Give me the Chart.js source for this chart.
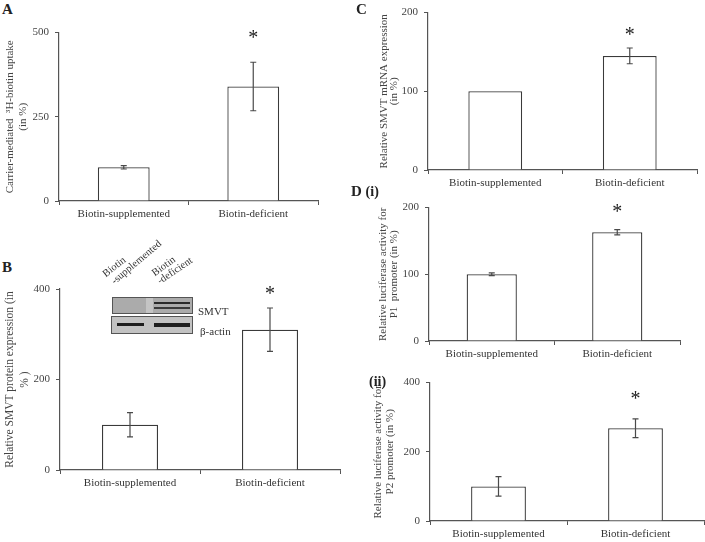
<!DOCTYPE html>
<html>
<head>
<meta charset="utf-8">
<script src="https://cdn.jsdelivr.net/npm/chart.js@4.4.1/dist/chart.umd.min.js"></script>
<style>
body { margin: 0; background: #fff; width: 705px; height: 542px; overflow: hidden; position: relative; font-family: "Liberation Serif", "DejaVu Serif", serif; }
canvas { position: absolute; }
.lbl { position: absolute; font-weight: bold; font-size: 15px; color: #222; line-height: 15px; }
.blot { position: absolute; border: 1px solid #555; box-sizing: border-box; }
.band { position: absolute; }
.btxt { position: absolute; font-size: 11px; color: #333; line-height: 11px; }
.rot { position: absolute; font-size: 10.5px; color: #333; line-height: 10px; transform-origin: left bottom; white-space: nowrap; }
</style>
</head>
<body>
<canvas id="chartA" width="330" height="206" style="left:0px;top:20px"></canvas>
<canvas id="chartB" width="350" height="220" style="left:0px;top:275px"></canvas>
<canvas id="chartC" width="355" height="195" style="left:350px;top:0px"></canvas>
<canvas id="chartD1" width="355" height="171" style="left:350px;top:195px"></canvas>
<canvas id="chartD2" width="355" height="172" style="left:350px;top:370px"></canvas>

<div class="lbl" style="left:2px;top:2px">A</div>
<div class="lbl" style="left:2px;top:260px">B</div>
<div class="lbl" style="left:356px;top:2px">C</div>
<div class="lbl" style="left:351px;top:184px">D <span style="font-size:14px">(i)</span></div>
<div class="lbl" style="left:369px;top:374px;font-size:14px">(ii)</div>

<!-- western blot inset -->
<div class="blot" style="left:112px;top:297px;width:81px;height:17px;background:#ababab"></div>
<div class="band" style="left:146px;top:298px;width:7px;height:15px;background:#c4c4c4"></div>
<div class="band" style="left:154px;top:302px;width:36px;height:2px;background:#2a2a2a"></div>
<div class="band" style="left:154px;top:307px;width:36px;height:2px;background:#3a3a3a"></div>
<div class="blot" style="left:111px;top:316px;width:82px;height:18px;background:#c2c2c2"></div>
<div class="band" style="left:117px;top:323px;width:27px;height:3px;background:#1e1e1e"></div>
<div class="band" style="left:154px;top:323px;width:36px;height:4px;background:#1e1e1e"></div>
<div class="btxt" style="left:198px;top:306px">SMVT</div>
<div class="btxt" style="left:200px;top:326px">β-actin</div>
<div class="rot" style="left:107px;top:269px;transform:rotate(-38deg)">Biotin</div>
<div class="rot" style="left:116px;top:276px;transform:rotate(-40deg)">-supplemented</div>
<div class="rot" style="left:156px;top:268px;transform:rotate(-36deg)">Biotin</div>
<div class="rot" style="left:161px;top:276px;transform:rotate(-34deg)">-deficient</div>

<script>
const categories = ['Biotin-supplemented', 'Biotin-deficient'];

// A: carrier-mediated uptake
const uptakeMean = [100, 340];
const uptakeErr = [5, 72];
// B: SMVT protein
const proteinMean = [100, 310];
const proteinErr = [27, 48];
// C: SMVT mRNA
const mrnaMean = [100, 145];
const mrnaErr = [0, 10];
// D(i): P1 promoter
const p1Mean = [100, 163];
const p1Err = [2, 4];
// D(ii): P2 promoter
const p2Mean = [100, 268];
const p2Err = [28, 27];

// axis ranges [max, step] and asterisk heights (data units)
const axisA = [500, 250];
const axisB = [400, 200];
const axisC = [200, 100];
const axisD1 = [200, 100];
const axisD2 = [400, 200];
const starAt = [493, 397, 176, 198, 362];

const serif = "'Liberation Serif', 'Times New Roman', serif";
const axisColor = '#555';

// draws the error bars + significance star
const errorBarPlugin = {
    id: 'errbars',
    afterDatasetsDraw(chart, args, opts) {
        const ctx = chart.ctx;
        const y = chart.scales.y;
        const meta = chart.getDatasetMeta(0);
        ctx.save();
        ctx.strokeStyle = '#4a4a4a';
        ctx.lineWidth = 1.2;
        meta.data.forEach((bar, i) => {
            const m = chart.data.datasets[0].data[i];
            const e = opts.err[i];
            if (!e) return;
            const top = y.getPixelForValue(m + e);
            const bot = y.getPixelForValue(m - e);
            ctx.beginPath();
            ctx.moveTo(bar.x, top); ctx.lineTo(bar.x, bot);
            ctx.moveTo(bar.x - 3, top); ctx.lineTo(bar.x + 3, top);
            ctx.moveTo(bar.x - 3, bot); ctx.lineTo(bar.x + 3, bot);
            ctx.stroke();
        });
        const last = meta.data[meta.data.length - 1];
        ctx.fillStyle = '#222';
        ctx.font = '20px ' + serif;
        ctx.textAlign = 'center';
        ctx.textBaseline = 'middle';
        ctx.fillText('*', last.x, y.getPixelForValue(opts.star) + 4);
        ctx.restore();
    }
};

function makeChart(id, means, errs, axis, star, title, box) {
    // box: [yAxisWidth, xAxisHeight, padTop, padRight, titleSize, titleLine, titlePad]
    return new Chart(document.getElementById(id), {
        type: 'bar',
        data: {
            labels: categories,
            datasets: [{
                data: means,
                backgroundColor: '#fff',
                borderColor: '#3a3a3a',
                borderWidth: 1.3,
                barPercentage: 0.4,
                categoryPercentage: 1.0
            }]
        },
        options: {
            responsive: false,
            animation: false,
            layout: { padding: { top: box[2], right: box[3], left: 0, bottom: 0 } },
            plugins: {
                legend: { display: false },
                tooltip: { enabled: false },
                errbars: { err: errs, star: star }
            },
            scales: {
                x: {
                    offset: true,
                    grid: { offset: true, drawOnChartArea: false, drawTicks: true, tickLength: 4, color: axisColor },
                    border: { color: axisColor, width: 1.2 },
                    ticks: { color: '#333', font: { family: serif, size: 11 }, maxRotation: 0 },
                    afterFit: s => { s.height = box[1]; }
                },
                y: {
                    min: 0, max: axis[0],
                    grid: { drawOnChartArea: false, drawTicks: true, tickLength: 4, color: axisColor },
                    border: { color: axisColor, width: 1.2 },
                    ticks: { stepSize: axis[1], color: '#444', padding: 6, font: { family: serif, size: 11 } },
                    title: {
                        display: true, text: title, color: '#444',
                        font: { family: serif, size: box[4], lineHeight: box[5] },
                        padding: { top: box[6], bottom: 0 }
                    },
                    afterFit: s => { s.width = box[0]; }
                }
            }
        },
        plugins: [errorBarPlugin]
    });
}

makeChart('chartA', uptakeMean, uptakeErr, axisA, starAt[0],
    ['Carrier-mediated  \u00B3H-biotin uptake', '(in %)'], [59, 25, 11, 12, 11, 1.2, 3.4]);
makeChart('chartB', proteinMean, proteinErr, axisB, starAt[1],
    ['Relative SMVT protein expression (in', '% )'], [60, 25, 14, 10, 11.5, 1.3, 2.5]);
makeChart('chartC', mrnaMean, mrnaErr, axisC, starAt[2],
    ['Relative SMVT mRNA expression', '(in %)'], [78, 25, 9, 8, 11, 0.9, 29]);
makeChart('chartD1', p1Mean, p1Err, axisD1, starAt[3],
    ['Relative luciferase activity for', 'P1  promoter (in %)'], [79, 25, 10, 25, 11, 1.0, 27.5]);
makeChart('chartD2', p2Mean, p2Err, axisD2, starAt[4],
    ['Relative luciferase activity for', 'P2 promoter (in %)'], [80, 21, 11, 1, 11, 1.1, 22]);
</script>
</body>
</html>
